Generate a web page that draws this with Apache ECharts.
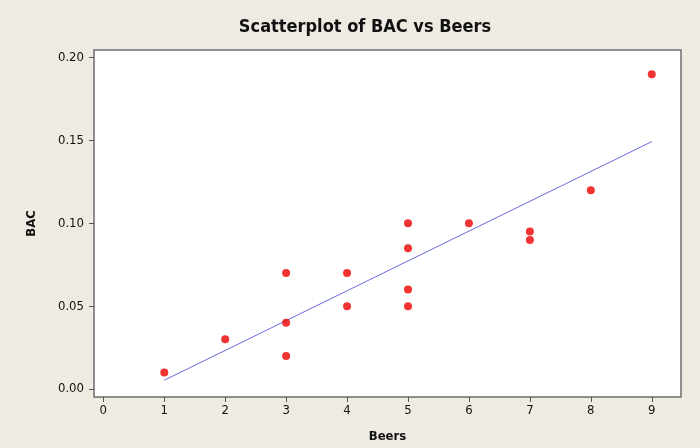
<!DOCTYPE html>
<html><head><meta charset="utf-8">
<script src="https://cdn.jsdelivr.net/npm/echarts@6/dist/echarts.min.js"></script>
<style>html,body{margin:0;padding:0;background:#EFEBE2}#c{width:700px;height:448px}</style>
</head><body><div id="c"></div>
<script>
const beers = [1, 2, 3, 3, 3, 4, 4, 5, 5, 5, 5, 6, 7, 7, 8, 9];
const bac = [0.010, 0.030, 0.070, 0.040, 0.020, 0.070, 0.050, 0.100, 0.085, 0.060, 0.050, 0.100, 0.095, 0.090, 0.120, 0.190];
const fitX = [1, 9];
const fitY = [0.0053, 0.1493];
const xTicks = [0, 1, 2, 3, 4, 5, 6, 7, 8, 9];
const yTicks = [0, 0.05, 0.10, 0.15, 0.20];

const font = 'DejaVu Sans Condensed, DejaVu Sans, sans-serif';
const chart = echarts.init(document.getElementById('c'));
chart.setOption({
  backgroundColor: '#EFEBE2',
  animation: false,
  title: {
    text: 'Scatterplot of BAC vs Beers',
    left: 360, top: 13, textAlign: 'center',
    textStyle: {fontFamily: font, fontSize: 18, fontWeight: 'bold', color: '#111'}
  },
  grid: {left: 94, top: 50, width: 587, height: 349, show: true, backgroundColor: '#ffffff', borderColor: '#6e6e6e', borderWidth: 1.5},
  xAxis: {
    type: 'value', min: -0.153, max: 9.48,
    name: 'Beers', nameLocation: 'middle', nameGap: 33,
    nameTextStyle: {fontFamily: font, fontSize: 13, fontWeight: 'bold', color: '#111'},
    axisLine: {show: false, onZero: false},
    splitLine: {show: false},
    axisTick: {show: true, length: 5, lineStyle: {color: '#555'}, customValues: xTicks},
    axisLabel: {fontFamily: font, fontSize: 13, color: '#111', margin: 7, customValues: xTicks, formatter: v => String(v)}
  },
  yAxis: {
    type: 'value', min: -0.0048, max: 0.2046,
    name: 'BAC', nameLocation: 'middle', nameGap: 56, nameRotate: 90,
    nameTextStyle: {fontFamily: font, fontSize: 13, fontWeight: 'bold', color: '#111'},
    axisLine: {show: false, onZero: false},
    splitLine: {show: false},
    axisTick: {show: true, length: 5, lineStyle: {color: '#555'}, customValues: yTicks},
    axisLabel: {fontFamily: font, fontSize: 13, color: '#111', margin: 10, customValues: yTicks, formatter: v => v.toFixed(2)}
  },
  series: [
    {type: 'line', data: fitX.map((x, i) => [x, fitY[i]]), symbol: 'none', lineStyle: {color: '#6a6ae0', width: 1}, z: 2},
    {type: 'scatter', data: beers.map((x, i) => [x, bac[i]]), symbolSize: 8, itemStyle: {color: '#ee0000'}, z: 3}
  ]
});
</script></body></html>
